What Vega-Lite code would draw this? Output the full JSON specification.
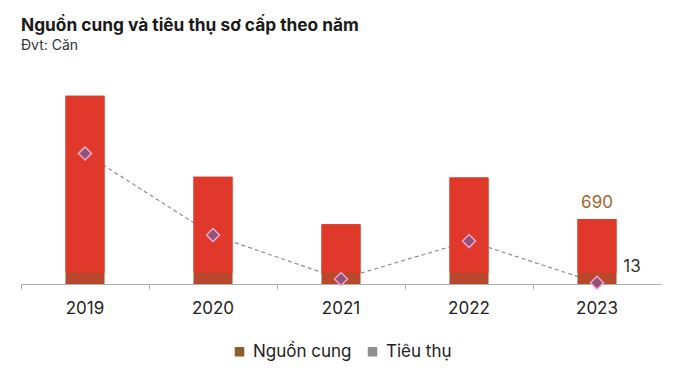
{
  "$schema": "https://vega.github.io/schema/vega-lite/v6.json",
  "width": 640,
  "height": 207,
  "autosize": {"type": "none"},
  "padding": {"left": 21, "top": 77, "right": 19, "bottom": 89},
  "background": "white",
  "title": {
    "text": "Nguồn cung và tiêu thụ sơ cấp theo năm",
    "subtitle": "Đvt: Căn",
    "anchor": "start",
    "frame": "group",
    "font": "Inter",
    "fontSize": 17.3,
    "fontWeight": "bold",
    "color": "#1a1a1a",
    "subtitleFont": "Inter",
    "subtitleFontSize": 14,
    "subtitleColor": "#333333",
    "subtitlePadding": 5,
    "offset": 24
  },
  "config": {"view": {"stroke": null}, "font": "Inter"},
  "data": {
    "values": [
      {"year": "2019", "supply": 2000, "consumption": 1388},
      {"year": "2020", "supply": 1139, "consumption": 520},
      {"year": "2021", "supply": 634, "consumption": 53},
      {"year": "2022", "supply": 1133, "consumption": 456},
      {"year": "2023", "supply": 690, "consumption": 13}
    ]
  },
  "encoding": {
    "x": {
      "field": "year",
      "type": "nominal",
      "scale": {"paddingInner": 0, "paddingOuter": 0},
      "axis": {
        "title": null,
        "labelAngle": 0,
        "labelFont": "Inter",
        "labelFontSize": 17,
        "labelColor": "#222222",
        "labelPadding": 11,
        "domainColor": "#b0b0b0",
        "tickColor": "#b0b0b0",
        "tickSize": 5,
        "bandPosition": 0
      }
    }
  },
  "layer": [
    {
      "mark": {"type": "line", "strokeDash": [4, 3], "strokeWidth": 1.2},
      "encoding": {
        "y": {"field": "consumption", "type": "quantitative", "scale": {"domain": [0, 2200]}, "axis": null},
        "color": {
          "datum": "Tiêu thụ",
          "scale": {"domain": ["Nguồn cung", "Tiêu thụ"], "range": ["#8B5E2B", "#8f8f8f"]},
          "legend": {
            "orient": "none",
            "legendX": 210,
            "legendY": 266,
            "direction": "horizontal",
            "title": null,
            "symbolType": "square",
            "symbolSize": 64,
            "labelFont": "Inter",
            "labelFontSize": 17,
            "labelColor": "#222222",
            "labelOffset": 5,
            "columnPadding": 12,
            "padding": 0,
            "encode": {
              "symbols": {
                "update": {
                  "fill": {"scale": "color", "field": "value"},
                  "stroke": {"value": "transparent"},
                  "strokeDash": {"value": []},
                  "opacity": {"value": 1}
                }
              }
            }
          }
        }
      }
    },
    {
      "mark": {"type": "bar", "size": 39},
      "encoding": {
        "y": {"field": "supply", "type": "quantitative"},
        "color": {"datum": "Nguồn cung"},
        "fill": {"value": "#B8472B"}
      }
    },
    {
      "mark": {"type": "bar", "size": 39, "color": "#E0382B"},
      "encoding": {
        "y": {"field": "supply", "type": "quantitative"},
        "y2": {"datum": 120}
      }
    },
    {
      "mark": {"type": "point", "shape": "diamond", "filled": true, "size": 170, "fill": "#8E5378", "stroke": "#F5A3C8", "strokeWidth": 1.5, "opacity": 1},
      "encoding": {
        "y": {"field": "consumption", "type": "quantitative"}
      }
    },
    {
      "transform": [{"filter": "datum.year == '2023'"}],
      "mark": {"type": "text", "baseline": "bottom", "dy": -7, "fontSize": 17, "color": "#A5652F", "font": "Inter"},
      "encoding": {
        "y": {"field": "supply", "type": "quantitative"},
        "text": {"field": "supply", "type": "quantitative"}
      }
    },
    {
      "transform": [{"filter": "datum.year == '2023'"}],
      "mark": {"type": "text", "baseline": "middle", "dx": 35, "dy": -16, "fontSize": 17, "color": "#333333", "font": "Inter"},
      "encoding": {
        "y": {"field": "consumption", "type": "quantitative"},
        "text": {"field": "consumption", "type": "quantitative"}
      }
    }
  ]
}
